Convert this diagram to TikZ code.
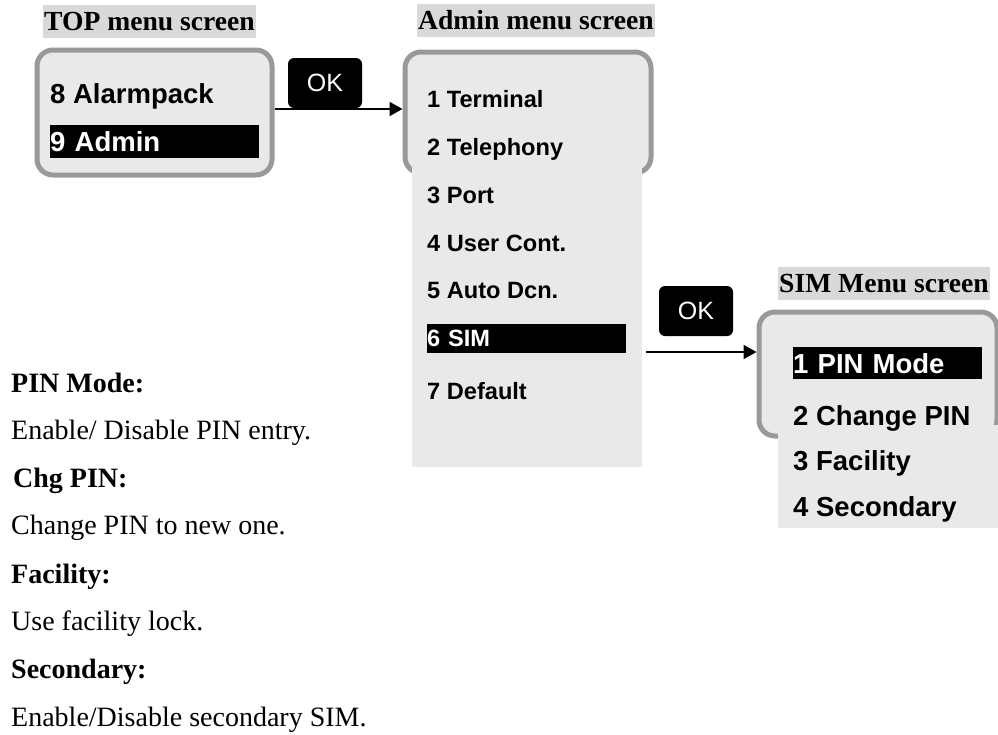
\documentclass[tikz,border=0pt]{standalone}
\usepackage{fontspec}
\setmainfont{Liberation Serif}
\setsansfont{Liberation Sans}
\usetikzlibrary{arrows.meta, positioning}
\definecolor{bezelgray}{RGB}{153,153,153}
\definecolor{lcdgray}{RGB}{233,233,233}
\definecolor{titlegray}{RGB}{217,217,217}

\begin{document}
\begin{tikzpicture}[x=1pt, y=-1pt,
    screen/.style={draw=bezelgray, line width=5pt, rounded corners=16pt,
                   fill=lcdgray, inner sep=0pt},
    listpane/.style={fill=lcdgray, inner sep=0pt, anchor=north west},
    title/.style={fill=titlegray, font=\fontsize{27.6}{30}\selectfont\bfseries,
                  text height=22pt, text depth=5pt, inner xsep=1pt, inner ysep=3pt,
                  anchor=base west},
    item/.style={font=\fontsize{27.5}{30}\selectfont\sffamily\bfseries,
                 inner sep=0pt, anchor=base west},
    smallitem/.style={item, font=\fontsize{23.6}{26}\selectfont\sffamily\bfseries},
    selected/.style={fill=black, text=white, inner sep=0pt, align=left,
                     anchor=north west},
    okkey/.style={fill=black, text=white, rounded corners=6pt, minimum width=74pt,
                  minimum height=50pt, font=\fontsize{25}{27}\selectfont\sffamily},
    okarrow/.style={line width=2pt, -{Triangle[length=13pt, width=14pt]}},
    note/.style={font=\fontsize{28}{30}\selectfont, inner sep=0pt, anchor=base west},
    notehead/.style={note, font=\fontsize{28}{30}\selectfont\bfseries}
]
    \useasboundingbox (0,0) rectangle (998,734);

    % screen titles
    \node[title] (toptitle) at (43,30) {TOP menu screen};
    \node[title] (admintitle) at (417,29) {Admin menu screen};
    \node[title] (simtitle) at (778,292) {SIM Menu screen};

    % TOP menu
    \node[screen, minimum width=235pt, minimum height=125pt] (topscreen) at (154.5,112.5) {};
    \node[item] (alarmpack) at (50,103) {8 Alarmpack};
    \node[item, selected, text width=209pt, minimum height=33pt] (adminsel) at (50,125) {9 Admin};

    % Admin menu
    \node[screen, minimum width=246pt, minimum height=121pt] (adminscreen) at (528,112.5) {};
    \node[listpane, minimum width=230pt, minimum height=302pt] (adminlist) at (412,165) {};
    \node[smallitem] (terminal) at (427,107) {1 Terminal};
    \node[smallitem] (telephony) at (427,155) {2 Telephony};
    \node[smallitem] (port) at (427,203) {3 Port};
    \node[smallitem] (usercont) at (427,251) {4 User Cont.};
    \node[smallitem] (autodcn) at (427,298) {5 Auto Dcn.};
    \node[smallitem, selected, text width=199pt, minimum height=29pt] (simsel) at (427,324) {6 SIM};
    \node[smallitem] (default) at (427,399) {7 Default};

    % SIM menu
    \node[screen, minimum width=238pt, minimum height=124pt] (simscreen) at (878,374) {};
    \node[listpane, minimum width=220pt, minimum height=103pt] (simlist) at (778,425) {};
    \node[item, selected, text width=189pt, minimum height=32pt] (pinmode) at (793,347) {1 PIN Mode};
    \node[item] (changepin) at (793,425) {2 Change PIN};
    \node[item] (facility) at (793,470) {3 Facility};
    \node[item] (secondary) at (793,516) {4 Secondary};

    % OK keys and arrows
    \node[okkey] (topok) at (325,83) {OK};
    \node[okkey] (adminok) at (696,311) {OK};
    \draw[okarrow] ([yshift=3.5pt]topscreen.east) -- ([yshift=3.5pt]adminscreen.west);
    \coordinate (simout) at (646,352);
    \draw[okarrow] (simout) -- (simout -| simscreen.west);

    % notes
    \node[notehead] (pinhead) at (11,392) {PIN Mode:};
    \node[note] (pintext) at (11,439) {Enable/ Disable PIN entry.};
    \node[notehead] (chghead) at (13,487) {Chg PIN:};
    \node[note] (chgtext) at (11,534) {Change PIN to new one.};
    \node[notehead] (fachead) at (11,583) {Facility:};
    \node[note] (factext) at (11,630) {Use facility lock.};
    \node[notehead] (sechead) at (11,678) {Secondary:};
    \node[note] (sectext) at (11,726) {Enable/Disable secondary SIM.};
\end{tikzpicture}
\end{document}
